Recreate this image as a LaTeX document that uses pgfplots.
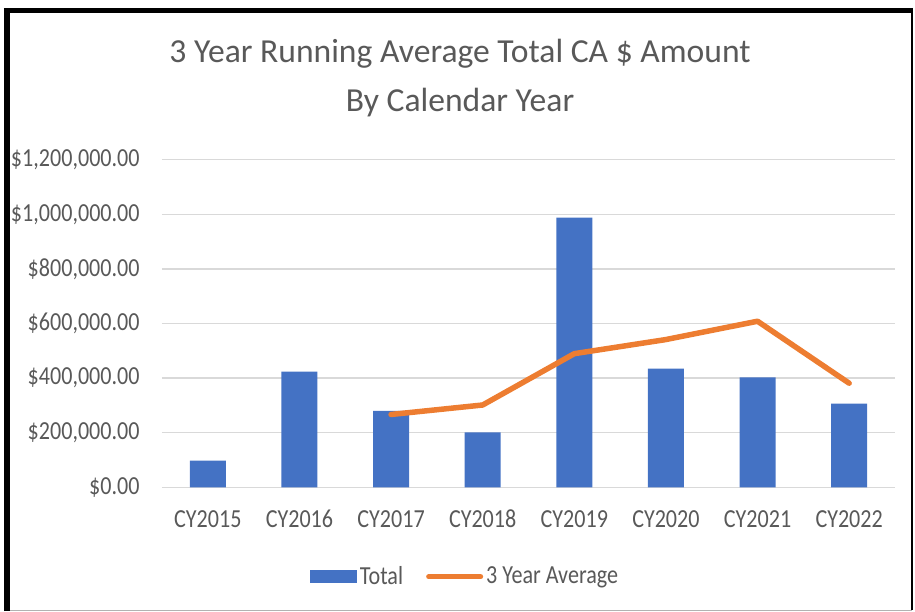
\documentclass[border=0pt]{standalone}
\usepackage{pgfplots}
\pgfplotsset{compat=1.18}
\usepackage{fontspec}
\setmainfont{Carlito}[FakeStretch=0.85]
\newfontfamily\titlefont{Carlito}
\definecolor{barblue}{HTML}{4472C4}
\definecolor{avgorange}{HTML}{ED7D31}
\definecolor{txtgray}{HTML}{595959}
\definecolor{gridgray}{HTML}{D9D9D9}
\begin{document}
\begin{tikzpicture}[x=1pt,y=1pt]
\useasboundingbox (-81,-61.85) rectangle (376.5,243.65);
\begin{axis}[
    at={(0,0)}, anchor=south west,
    width=366.5pt, height=163.8pt, scale only axis,
    xmin=-0.5, xmax=7.5, ymin=0, ymax=1200000,
    axis line style={draw=none},
    tick style={draw=none},
    xtick={0,...,7},
    xticklabels={CY2015,CY2016,CY2017,CY2018,CY2019,CY2020,CY2021,CY2022},
    ytick={0,200000,400000,600000,800000,1000000,1200000},
    yticklabels={{\$0.00},{\$200,000.00},{\$400,000.00},{\$600,000.00},{\$800,000.00},{\$1,000,000.00},{\$1,200,000.00}},
    scaled y ticks=false,
    tick label style={font=\fontsize{13}{15}\selectfont, text=txtgray},
    xticklabel style={anchor=base, inner sep=0pt, yshift=-20pt},
    yticklabel style={anchor=east, inner sep=0pt, xshift=-11pt},
    ymajorgrids,
    major grid style={gridgray, line width=0.75pt},
    title={3 Year Running Average Total CA \$ Amount\\By Calendar Year},
    title style={at={(0.4066,1.2128)}, anchor=center, align=center,
        font=\titlefont\fontsize{16.8}{24.5}\selectfont, text=txtgray},
    legend columns=2,
    legend style={at={(0.414,-0.273)}, anchor=center, draw=none,
        font=\fontsize{13}{15}\selectfont, text=txtgray,
        cells={anchor=west}, nodes={inner sep=1.5pt},
        /tikz/every even column/.append style={column sep=10pt}},
    clip=false
]
\addplot[ybar, bar width=18pt, fill=barblue, draw=none,
    legend image code/.code={\fill[barblue] (0pt,-3.25pt) rectangle (23.5pt,3.25pt);}]
    coordinates {(0,97400) (1,423400) (2,279500) (3,201500)
                 (4,987600) (5,434400) (6,402900) (7,306200)};
\addlegendentry{Total}
\addplot[avgorange, line width=2.75pt, line join=round, line cap=round, mark=none,
    legend image code/.code={\draw[avgorange, line width=2.5pt, line cap=round] (0pt,0pt) -- (26pt,0pt);}]
    coordinates {(2,266800) (3,301500) (4,489500) (5,541200) (6,608300) (7,381200)};
\addlegendentry{3 Year Average}
\end{axis}
% chart frame
\draw[black, line width=3pt] (-77.5,-61.85) -- (-77.5,239.65);
\draw[black, line width=2.5pt] (-79,238.4) -- (375.5,238.4);
\draw[black, line width=1pt] (375,239.65) -- (375,-61.4);
\draw[gray!60, line width=0.5pt] (-76,-61.4) -- (375,-61.4);
\end{tikzpicture}
\end{document}
